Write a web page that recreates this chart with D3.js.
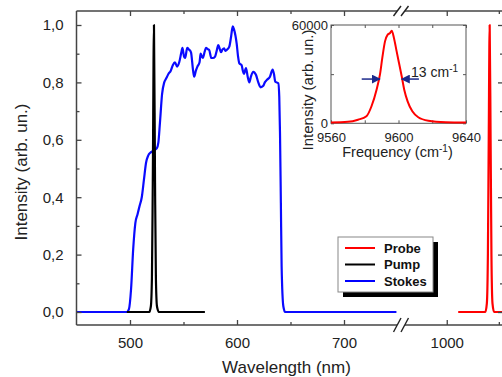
<!DOCTYPE html>
<html>
<head>
<meta charset="utf-8">
<script src="https://cdn.jsdelivr.net/npm/d3@7"></script>
<style>
  body { margin: 0; background: #fff; }
  svg { display: block; font-family: "Liberation Sans", Arial, sans-serif; }
</style>
</head>
<body>
<div id="chart"></div>
<script>
// Stokes spectrum (blue)
const stokesWavelength = [450, 497, 499, 501, 503, 505, 507, 509, 511, 513, 515, 517, 519, 521, 523, 525, 526.5, 528, 530, 532,
  534, 536, 538, 540, 542, 544, 546, 548, 549, 550.5, 551.5, 553.5, 555, 557, 559, 560, 561.5, 563, 565, 566,
  568, 570, 571, 573, 574, 576, 577.5, 579.5, 581, 582.5, 584, 585, 586.5, 588, 589, 590.3, 592.8, 594.5, 596, 597.2,
  599.7, 601, 602.2, 604.3, 605.5, 606.5, 608.4, 610, 611.5, 613, 615.2, 617.8, 619.9, 622.1, 624.6, 626, 627.7, 630.8, 633.3, 634.5,
  635.8, 638.6, 639.5, 640.2, 641, 641.7, 643.3, 645, 749];
const stokesIntensity = [0, 0, 0.01, 0.08, 0.22, 0.31, 0.34, 0.37, 0.40, 0.46, 0.52, 0.545, 0.555, 0.56, 0.565, 0.57, 0.59, 0.66, 0.76, 0.80,
  0.815, 0.83, 0.84, 0.86, 0.87, 0.855, 0.87, 0.905, 0.92, 0.89, 0.885, 0.92, 0.915, 0.905, 0.84, 0.82, 0.84, 0.855, 0.87, 0.90,
  0.885, 0.91, 0.92, 0.915, 0.913, 0.885, 0.885, 0.89, 0.91, 0.93, 0.915, 0.905, 0.915, 0.919, 0.91, 0.913, 0.925, 0.96, 0.995, 0.985,
  0.935, 0.89, 0.866, 0.86, 0.84, 0.83, 0.85, 0.82, 0.80, 0.82, 0.837, 0.826, 0.80, 0.783, 0.788, 0.80, 0.808, 0.82, 0.845, 0.83,
  0.802, 0.797, 0.75, 0.62, 0.38, 0.16, 0.02, 0, 0];

// Pump (black)
const pumpWavelength = [497, 518, 519.5, 520.5, 521.3, 522.4, 523.4, 524.2, 525.2, 527, 570];
const pumpIntensity = [0, 0, 0.02, 0.12, 0.45, 1.0, 0.45, 0.12, 0.02, 0, 0];

// Probe (red)
const probeWavelength = [1011, 1037, 1038.5, 1039.5, 1040.3, 1041.2, 1042.1, 1042.9, 1043.9, 1045.5, 1060];
const probeIntensity = [0, 0, 0.03, 0.2, 0.6, 1.0, 0.6, 0.2, 0.03, 0, 0];

// Inset: probe line in frequency
const insetFrequency = [9560, 9570, 9576, 9581, 9584, 9587, 9589, 9590.4, 9592, 9593.6, 9595, 9596, 9597.3, 9598.9,
  9600.3, 9601.9, 9603.4, 9605.4, 9608.2, 9611.7, 9617.7, 9628, 9640];
const insetIntensity = [500, 900, 2200, 4300, 10400, 20500, 29700, 39900, 50000, 54100, 55100, 56500, 52100, 43900,
  36800, 28700, 20500, 13400, 7300, 3700, 1600, 700, 500];

// ticks
const xTicksLeft = [500, 600, 700];
const xMinorLeft = [550, 650];
const xTicksRight = [1000];
const xMinorRight = [1050];
const yTicks = [0, 0.2, 0.4, 0.6, 0.8, 1.0];
const yMinor = [0.1, 0.3, 0.5, 0.7, 0.9];
const insetXTicks = [9560, 9580, 9600, 9620, 9640];
const insetXLabels = [9560, 9600, 9640];
const insetYTicks = [0, 30000, 60000];
const insetYLabels = [0, 60000];
const widthMarker = [9578.2, 9589, 9601.9, 9612.1]; // arrows at FWHM
const widthLevel = 27000;

const legendNames = ["Probe", "Pump", "Stokes"];
const legendColors = ["#ff0000", "#000000", "#0000ff"];

const width = 502, height = 377;
const plotTop = 11, plotBottom = 325, plotLeft = 76.5, plotRight = 503;
const axisColor = "#444";

const svg = d3.select("#chart").append("svg")
  .attr("width", width)
  .attr("height", height);

const x1 = d3.scaleLinear().domain([450, 750]).range([plotLeft, 397.5]);
const x2 = d3.scaleLinear().domain([958, 1054]).range([403, 503]);
const y = d3.scaleLinear().domain([0, 1]).range([312, 25]);

// clip paths for the two segments
const defs = svg.append("defs");
defs.append("clipPath").attr("id", "clipL").append("rect")
  .attr("x", plotLeft).attr("y", plotTop).attr("width", 397.5 - plotLeft).attr("height", plotBottom - plotTop);
defs.append("clipPath").attr("id", "clipR").append("rect")
  .attr("x", 403).attr("y", plotTop).attr("width", plotRight - 403).attr("height", plotBottom - plotTop);

function zip(a, b) { return a.map((v, i) => [v, b[i]]); }

// curves
function drawLine(xs, ys, scale, color, clip) {
  const line = d3.line()
    .x(d => scale(d[0]))
    .y(d => y(d[1]))
    .curve(d3.curveMonotoneX);
  svg.append("path")
    .datum(zip(xs, ys))
    .attr("clip-path", "url(#" + clip + ")")
    .attr("fill", "none")
    .attr("stroke", color)
    .attr("stroke-width", 2.2)
    .attr("stroke-linejoin", "round")
    .attr("d", line);
}
drawLine(stokesWavelength, stokesIntensity, x1, "#0a0aff", "clipL");
drawLine(pumpWavelength, pumpIntensity, x1, "#000", "clipL");
drawLine(probeWavelength, probeIntensity, x2, "#ff0000", "clipR");

// Add X axes (ticks pointing inward, bottom and top)
function xAxis(scale, values, size, ypos, isTop, labeled) {
  const ax = (isTop ? d3.axisTop(scale) : d3.axisBottom(scale))
    .tickValues(values)
    .tickSizeInner(-size)
    .tickSizeOuter(0)
    .tickPadding(12)
    .tickFormat(labeled ? d3.format("d") : "");
  const g = svg.append("g")
    .attr("transform", "translate(0," + ypos + ")")
    .attr("color", axisColor)
    .call(ax);
  g.select(".domain").remove();
  g.selectAll("line").attr("stroke-width", 1.3);
  g.selectAll("text").attr("fill", "#222").style("font-size", "15px");
}
xAxis(x1, xTicksLeft, 5, plotBottom, false, true);
xAxis(x1, xMinorLeft, 3, plotBottom, false, false);
xAxis(x2, xTicksRight, 5, plotBottom, false, true);
xAxis(x2, xMinorRight, 3, plotBottom, false, false);
xAxis(x1, xTicksLeft, 5, plotTop, true, false);
xAxis(x1, xMinorLeft, 3, plotTop, true, false);
xAxis(x2, xTicksRight, 5, plotTop, true, false);
xAxis(x2, xMinorRight, 3, plotTop, true, false);

// Add Y axes
function yAxis(values, size, xpos, isRight, labeled) {
  const ax = (isRight ? d3.axisRight(y) : d3.axisLeft(y))
    .tickValues(values)
    .tickSizeInner(-size)
    .tickSizeOuter(0)
    .tickPadding(13)
    .tickFormat(labeled ? d => d3.format(".1f")(d).replace(".", ",") : "");
  const g = svg.append("g")
    .attr("transform", "translate(" + xpos + ",0)")
    .attr("color", axisColor)
    .call(ax);
  g.select(".domain").remove();
  g.selectAll("line").attr("stroke-width", 1.3);
  g.selectAll("text").attr("fill", "#222").style("font-size", "15px");
}
yAxis(yTicks, 5, plotLeft, false, true);
yAxis(yMinor, 3, plotLeft, false, false);
yAxis(yTicks, 5, plotRight, true, false);
yAxis(yMinor, 3, plotRight, true, false);

// frame with axis break
const frame = svg.append("g").attr("stroke", axisColor).attr("stroke-width", 1.5).attr("fill", "none");
frame.append("line").attr("x1", plotLeft).attr("x2", plotLeft).attr("y1", plotTop).attr("y2", plotBottom);
frame.append("line").attr("x1", plotRight).attr("x2", plotRight).attr("y1", plotTop).attr("y2", plotBottom);
[plotTop, plotBottom].forEach(yy => {
  frame.append("line").attr("x1", plotLeft).attr("x2", 397).attr("y1", yy).attr("y2", yy);
  frame.append("line").attr("x1", 405).attr("x2", plotRight).attr("y1", yy).attr("y2", yy);
  const h = yy === plotTop ? 5 : 7;
  [393.5, 401].forEach(bx => {
    frame.append("line")
      .attr("x1", bx).attr("y1", yy + h)
      .attr("x2", bx + 7.5).attr("y2", yy - h)
      .attr("stroke", "#222").attr("stroke-width", 1.4);
  });
});

// axis titles
svg.append("text")
  .attr("x", 286.5).attr("y", 373)
  .attr("text-anchor", "middle")
  .style("font-size", "17px").attr("fill", "#222")
  .text("Wavelength (nm)");
svg.append("text")
  .attr("transform", "translate(27,172) rotate(-90)")
  .attr("text-anchor", "middle")
  .style("font-size", "17px").attr("fill", "#222")
  .text("Intensity (arb. un.)");

// Legend
const lg = svg.append("g").attr("transform", "translate(338,237)");
lg.append("rect").attr("x", 5).attr("y", 5).attr("width", 95).attr("height", 55).attr("fill", "#000");
lg.append("rect").attr("x", 0).attr("y", 0).attr("width", 95).attr("height", 55)
  .attr("fill", "#fff").attr("stroke", "#888").attr("stroke-width", 1);
legendNames.forEach((name, i) => {
  const yy = 11 + i * 16.5;
  lg.append("line").attr("x1", 7).attr("x2", 37).attr("y1", yy).attr("y2", yy)
    .attr("stroke", legendColors[i]).attr("stroke-width", 2);
  lg.append("text").attr("x", 46).attr("y", yy + 4.5)
    .style("font-size", "13px").style("font-weight", "bold").attr("fill", "#111")
    .text(name);
});

// Inset
const ix = d3.scaleLinear().domain([9560, 9640]).range([331, 466]);
const iy = d3.scaleLinear().domain([0, 60000]).range([123.3, 25]);
const inset = svg.append("g");
inset.append("rect")
  .attr("x", 331).attr("y", 25).attr("width", 135).attr("height", 98.3)
  .attr("fill", "#fff").attr("stroke", "#555").attr("stroke-width", 1);

function insetAxis(axis, pos) {
  const g = inset.append("g").attr("transform", pos).attr("color", "#555").call(axis);
  g.select(".domain").remove();
  g.selectAll("text").attr("fill", "#222").style("font-size", "13px");
  return g;
}
insetAxis(d3.axisBottom(ix).tickValues(insetXTicks).tickSizeInner(-3).tickSizeOuter(0).tickPadding(9.5)
  .tickFormat(d => insetXLabels.includes(d) ? d : ""), "translate(0,123.3)");
insetAxis(d3.axisTop(ix).tickValues(insetXTicks).tickSizeInner(-3).tickSizeOuter(0).tickFormat(""), "translate(0,25)");
insetAxis(d3.axisLeft(iy).tickValues(insetYTicks).tickSizeInner(-3).tickSizeOuter(0).tickPadding(3)
  .tickFormat(d => insetYLabels.includes(d) ? d : ""), "translate(331,0)");
insetAxis(d3.axisRight(iy).tickValues(insetYTicks).tickSizeInner(-3).tickSizeOuter(0).tickFormat(""), "translate(466,0)");

inset.append("path")
  .datum(zip(insetFrequency, insetIntensity))
  .attr("fill", "none")
  .attr("stroke", "#ff0000")
  .attr("stroke-width", 2)
  .attr("d", d3.line().x(d => ix(d[0])).y(d => iy(d[1])).curve(d3.curveMonotoneX));

// FWHM arrows
defs.append("marker").attr("id", "arr").attr("viewBox", "0 0 10 10")
  .attr("refX", 9).attr("refY", 5).attr("markerWidth", 6).attr("markerHeight", 6)
  .attr("orient", "auto-start-reverse")
  .append("path").attr("d", "M0,0 L10,5 L0,10 z").attr("fill", "#1c2a8c");
inset.append("line")
  .attr("x1", ix(widthMarker[0])).attr("x2", ix(widthMarker[1]))
  .attr("y1", iy(widthLevel)).attr("y2", iy(widthLevel))
  .attr("stroke", "#1c2a8c").attr("stroke-width", 1.5).attr("marker-end", "url(#arr)");
inset.append("line")
  .attr("x1", ix(widthMarker[3])).attr("x2", ix(widthMarker[2]))
  .attr("y1", iy(widthLevel)).attr("y2", iy(widthLevel))
  .attr("stroke", "#1c2a8c").attr("stroke-width", 1.5).attr("marker-end", "url(#arr)");
const wl = inset.append("text").attr("x", 411).attr("y", 76.5)
  .style("font-size", "14px").attr("fill", "#222");
wl.append("tspan").text("13 cm");
wl.append("tspan").attr("dy", -5).style("font-size", "10px").text("-1");

// inset titles
const ft = inset.append("text").attr("x", 397.5).attr("y", 157)
  .attr("text-anchor", "middle").style("font-size", "14.5px").attr("fill", "#222");
ft.append("tspan").text("Frequency (cm");
ft.append("tspan").attr("dy", -5).style("font-size", "10px").text("-1");
ft.append("tspan").attr("dy", 5).text(")");
inset.append("text")
  .attr("transform", "translate(313,90) rotate(-90)")
  .attr("text-anchor", "middle")
  .style("font-size", "15px").attr("fill", "#222")
  .text("Intensity (arb. un.)");
</script>
</body>
</html>
